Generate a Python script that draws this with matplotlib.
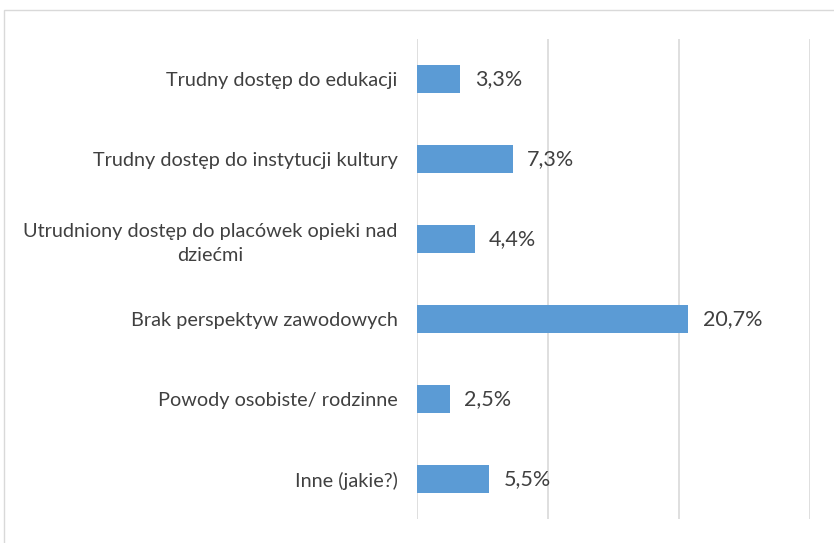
import matplotlib.pyplot as plt
from matplotlib.patches import Rectangle

plt.rcParams.update({'font.family': ['Lato', 'DejaVu Sans']})

categories = ["Trudny dostęp do edukacji",
              "Trudny dostęp do instytucji kultury",
              "Utrudniony dostęp do placówek opieki nad\ndziećmi",
              "Brak perspektyw zawodowych",
              "Powody osobiste/ rodzinne",
              "Inne (jakie?)"]
values = [3.3, 7.3, 4.4, 20.7, 2.5, 5.5]
labels = ["3,3%", "7,3%", "4,4%", "20,7%", "2,5%", "5,5%"]

fig = plt.figure(figsize=(8.34, 5.43), dpi=100)
fig.patches.append(Rectangle((4 / 834, -0.1), 1.0, 1 - 10 / 543 + 0.1, transform=fig.transFigure,
                             fill=False, edgecolor='#d9d9d9', linewidth=1))
ax = fig.add_axes([417 / 834, 24 / 543, 393 / 834, 480 / 543])

pos = list(range(len(categories)))
ax.barh(pos, values, 0.35, color='#5b9bd5')
for p, v, l in zip(pos, values, labels):
    ax.text(v + 1.1, p, l, va='center', ha='left', fontsize=15.5, color='#404040')

ax.set_xlim(0, 30)
ax.set_ylim(5.5, -0.5)
ax.set_xticks([0, 10, 20, 30])
ax.set_xticklabels([])
ax.xaxis.grid(True, color='#d9d9d9', linewidth=1.2)
ax.set_axisbelow(True)
ax.set_yticks(pos)
ax.set_yticklabels(categories, fontsize=14.3, color='#404040')
for t in ax.get_yticklabels():
    t.set_multialignment('center')
    t.set_linespacing(1.45)
ax.tick_params(axis='both', length=0)
ax.tick_params(axis='y', pad=14)
for s in ax.spines.values():
    s.set_visible(False)

plt.savefig("out.png", dpi=100)
